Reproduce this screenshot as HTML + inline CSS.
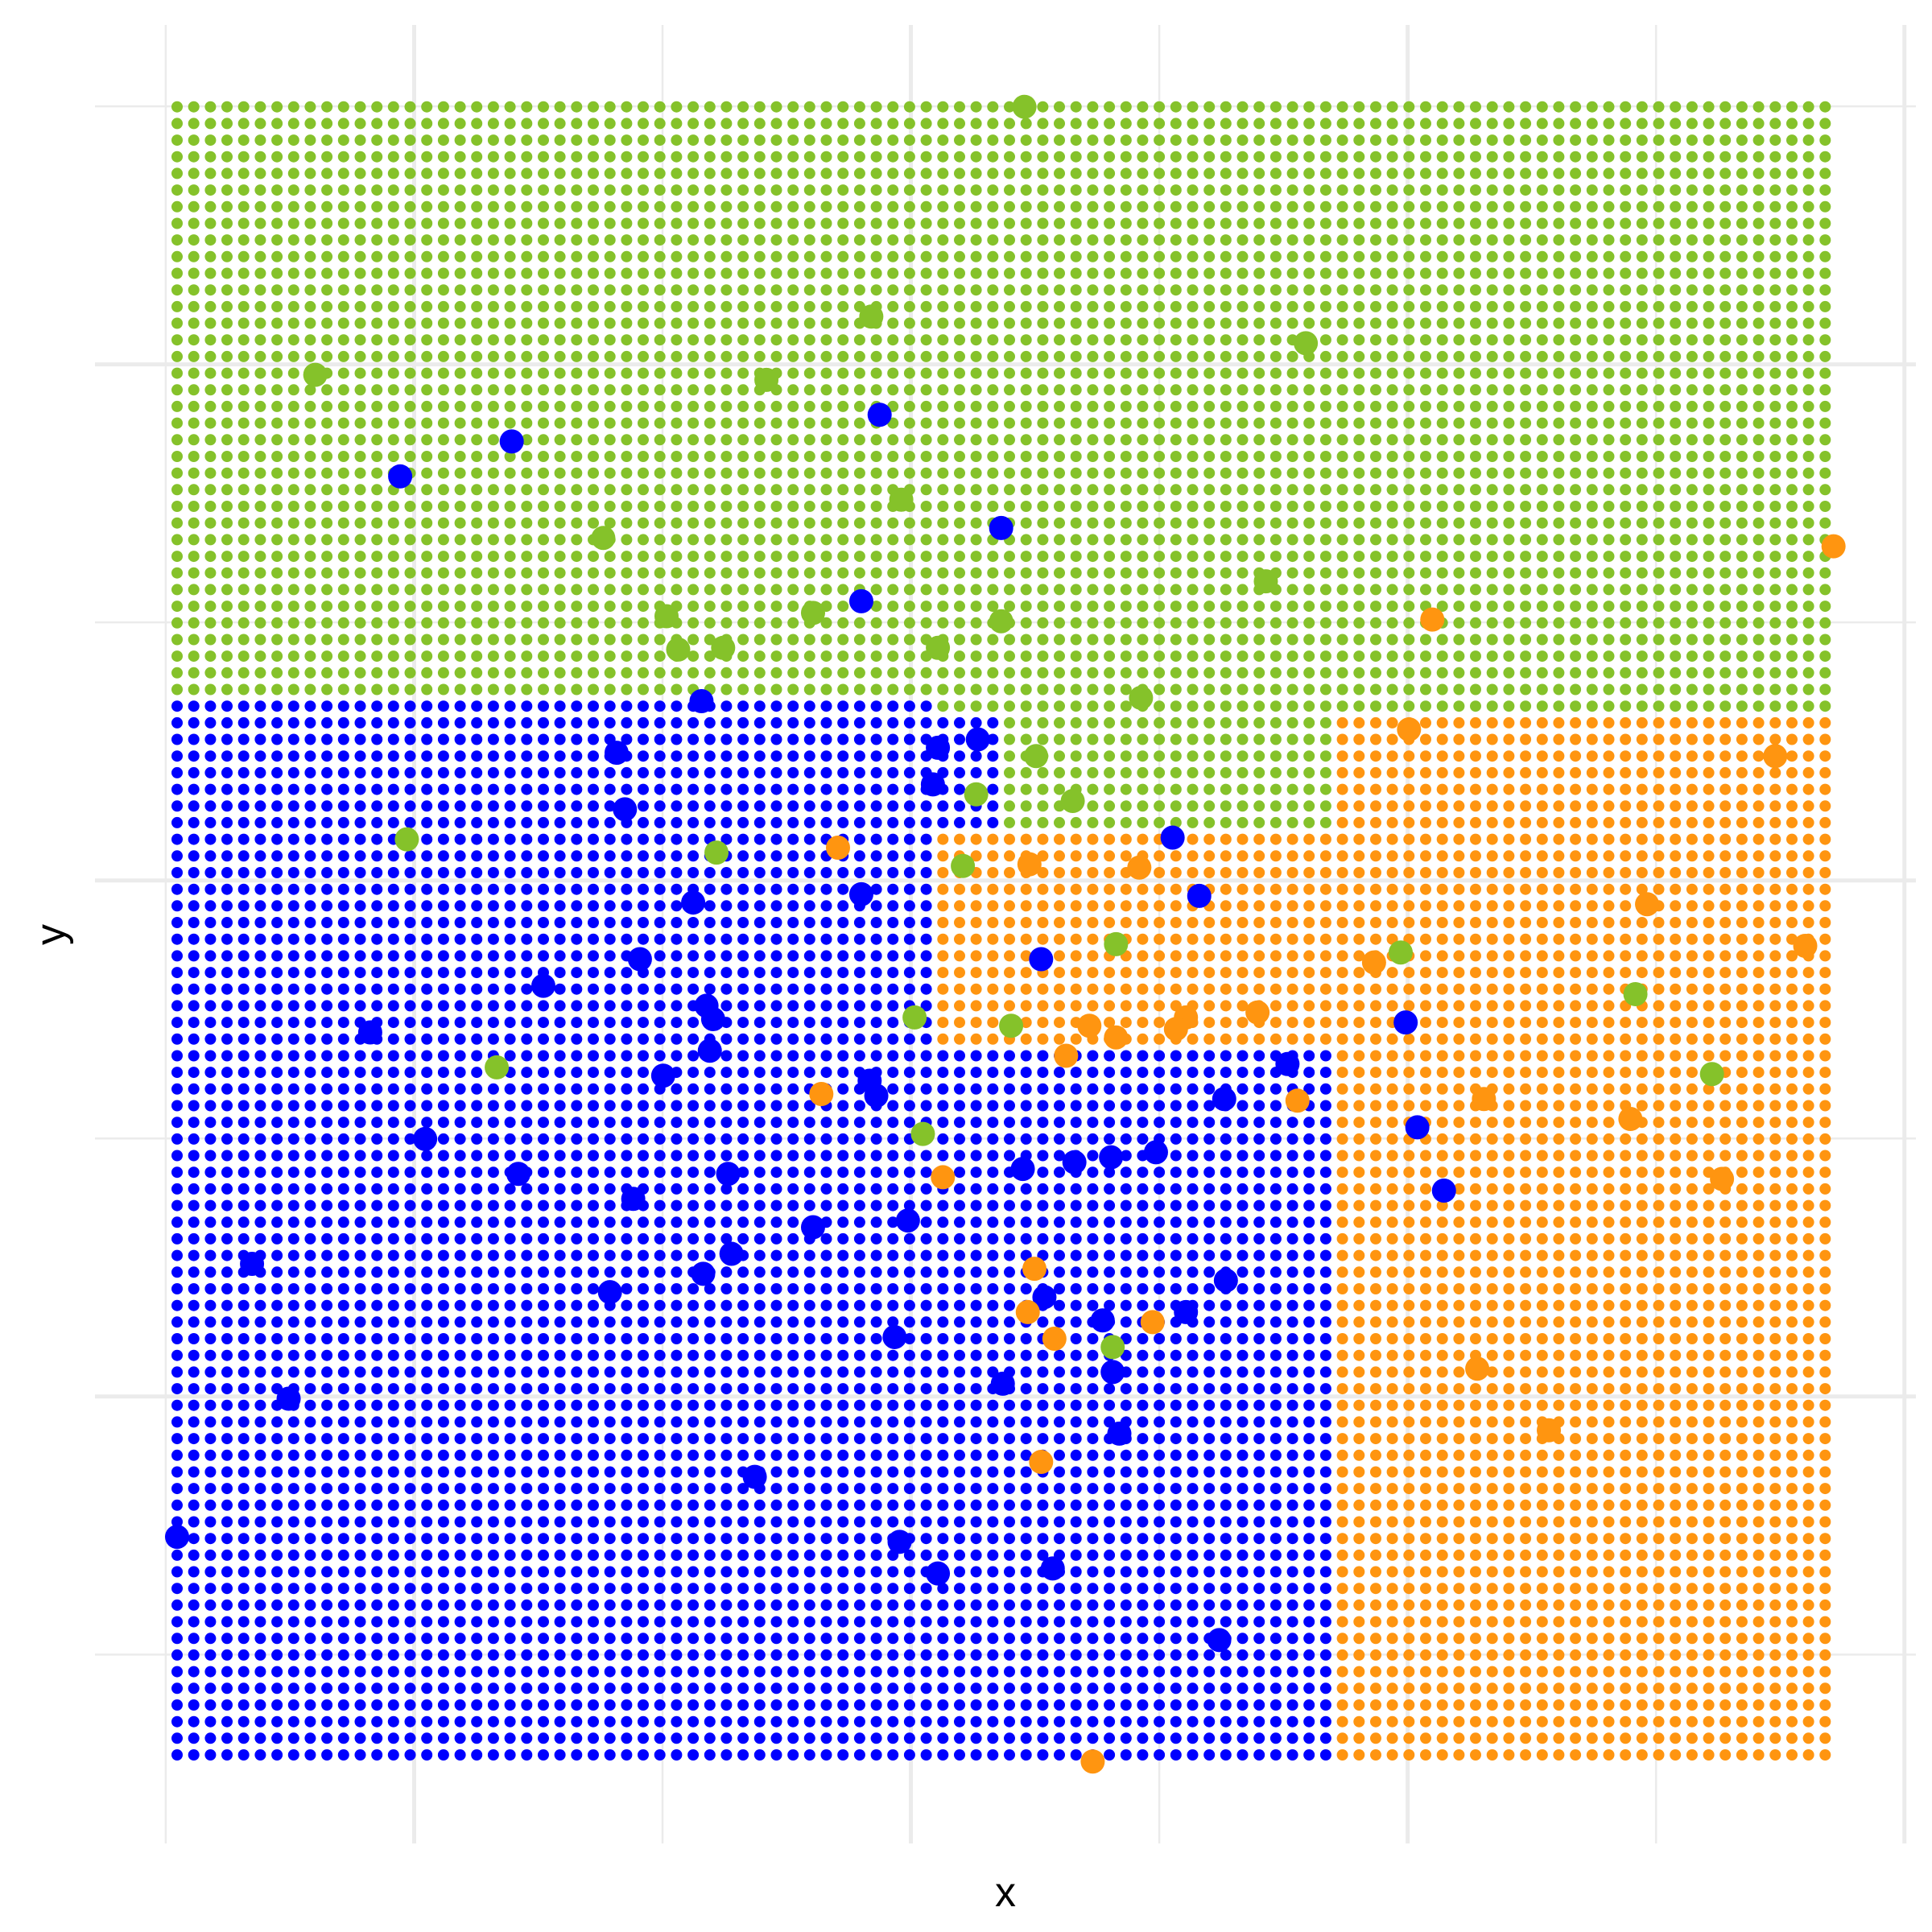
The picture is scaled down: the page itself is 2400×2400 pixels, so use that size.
<!DOCTYPE html>
<html><head><meta charset="utf-8"><style>
html,body{margin:0;padding:0;background:#fff;}
svg{display:block;}
</style></head><body>
<svg id="chart" width="2400" height="2400" viewBox="0 0 2400 2400" xmlns="http://www.w3.org/2000/svg">
<rect width="2400" height="2400" fill="#fff"/>
<g id="grid"></g>
<g id="bg"></g>
<g id="pts"></g>
<text x="1249" y="2368" font-family="Liberation Sans, sans-serif" font-size="52" text-anchor="middle" fill="#000">x</text>
<text x="0" y="0" transform="translate(80,1161) rotate(-90)" font-family="Liberation Sans, sans-serif" font-size="52" text-anchor="middle" fill="#000">y</text>
</svg>
<script>
const greenX=[50.9,41.7,67.8,8.3,35.4,43.5,25.6,65.4,29.4,38.2,49.5,30.1,32.8,45.7,57.9,51.6,53.8,48.0,13.8,32.4,47.2,56.4,73.5,87.6,44.3,50.1,19.2,92.2,44.8,56.2];
const greenY=[99.0,86.4,84.8,82.9,82.6,75.4,73.1,70.5,68.4,68.6,68.1,66.4,66.5,66.5,63.5,60.0,57.3,57.7,55.0,54.2,53.4,48.7,48.2,45.7,44.3,43.8,41.3,40.9,37.3,24.5];
const blueX=[42.2,20.1,13.4,49.5,41.1,31.5,26.4,45.7,48.1,45.4,26.9,59.8,41.1,31.0,61.4,27.8,51.9,22.0,11.6,31.8,32.2,73.8,32.0,29.2,66.7,41.6,42.0,62.9,74.5,14.9,20.5,33.1,27.4,53.9,56.1,58.8,50.8,76.1,38.2,43.9,4.5,31.6,33.3,26.0,63.0,52.1,60.6,55.6,43.1,56.2,49.6,6.7,56.6,34.7,0.0,43.4,45.7,52.6,62.6];
const blueY=[80.5,78.9,76.8,73.7,69.3,63.3,60.2,60.5,61.0,58.3,56.8,55.1,51.7,51.2,51.6,47.8,47.8,46.2,43.4,45.0,44.2,44.0,42.3,40.8,41.5,40.5,39.6,39.4,37.7,37.0,34.9,34.9,33.4,35.6,35.9,36.2,35.2,33.9,31.7,32.1,29.5,28.9,30.1,27.8,28.5,27.5,26.6,26.1,25.1,23.0,22.3,21.4,19.3,16.7,13.1,12.8,10.9,11.2,6.9];
const orangeX=[99.5,75.4,74.0,96.0,39.7,51.2,57.8,88.3,97.8,71.9,54.8,56.4,60.6,60.0,64.9,53.4,38.7,67.3,78.5,87.3,46.0,92.8,51.5,51.1,52.7,58.6,78.1,82.4,51.9,55.0];
const orangeY=[72.6,68.2,61.6,60.0,54.5,53.5,53.3,51.1,48.6,47.6,43.8,43.1,44.3,43.6,44.6,42.0,39.7,39.3,39.4,38.2,34.7,34.6,29.2,26.6,25.0,26.0,23.2,19.5,17.6,-0.4];
const xGridTicks=[-0.68,14.24,29.16,44.08,59.0,73.92,88.84,103.76];
const yGridTicks=[99.03,83.53,68.03,52.53,37.03,21.53,6.03];
const NCOL=100, NROW=100;

const SVGNS="http://www.w3.org/2000/svg";
const sx=v=>220+20.68*v;
const sy=v=>132.7+20.68*(99-v);
const COL={green:"#85c22a",blue:"#0000ff",orange:"#ff9510"};
function regionOf(i,j){ // j = row index from top
  if(j<=35) return "green";
  if(j===36) return i<=45?"blue":"green";
  if(j<=43) return i<=49?"blue":(i<=69?"green":"orange");
  if(j<=56) return i<=45?"blue":"orange";
  return i<=69?"blue":"orange";
}
const grid=document.getElementById('grid');
xGridTicks.forEach((t,k)=>{
  const l=document.createElementNS(SVGNS,'line');
  
  
  l.setAttribute('x1',sx(t));l.setAttribute('x2',sx(t));
  l.setAttribute('y1',31);l.setAttribute('y2',2290);
  l.setAttribute('stroke','#ebebeb');l.setAttribute('stroke-width',k%2?5:2.5);
  grid.appendChild(l);
});
yGridTicks.forEach((t,k)=>{
  const l=document.createElementNS(SVGNS,'line');
  
  
  l.setAttribute('x1',118);l.setAttribute('x2',2380);
  l.setAttribute('y1',sy(t));l.setAttribute('y2',sy(t));
  l.setAttribute('stroke','#ebebeb');l.setAttribute('stroke-width',k%2?5:2.5);
  grid.appendChild(l);
});
const bg=document.getElementById('bg');
let html='';
for(let j=0;j<NROW;j++){for(let i=0;i<NCOL;i++){
  html+='<circle cx="'+sx(i).toFixed(1)+'" cy="'+sy(99-j).toFixed(1)+'" r="7" fill="'+COL[regionOf(i,j)]+'"/>';
}}
bg.innerHTML=html;
const pts=document.getElementById('pts');
function drawSeries(xs,ys,c,name){
  xs.forEach((x,k)=>{
    const el=document.createElementNS(SVGNS,'circle');
    
    
    el.setAttribute('cx',sx(x));el.setAttribute('cy',sy(ys[k]));
    el.setAttribute('r',15);el.setAttribute('fill',COL[c]);
    pts.appendChild(el);
  });
}
drawSeries(greenX,greenY,'green','green-point');
drawSeries(blueX,blueY,'blue','blue-point');
drawSeries(orangeX,orangeY,'orange','orange-point');
</script>
</body></html>
